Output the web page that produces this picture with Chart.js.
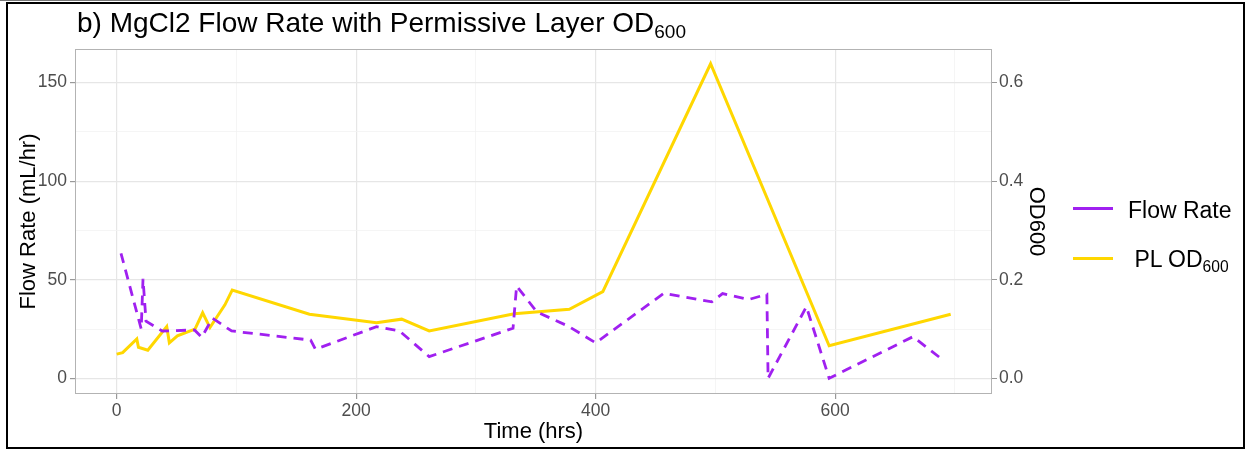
<!DOCTYPE html>
<html lang="en">
<head>
<meta charset="UTF-8">
<title>MgCl2 Flow Rate with Permissive Layer OD600</title>
<script src="https://cdn.jsdelivr.net/npm/chart.js@4.4.0/dist/chart.umd.min.js"></script>
<style>
  body { margin: 0; background: #fff; font-family: "Liberation Sans", Arial, sans-serif; }
  #wrap { position: relative; width: 1247px; height: 449px; overflow: hidden; }
  #chart { position: absolute; left: 0; top: 0; }
  #topline { position: absolute; left: 0; top: 0; width: 1070px; height: 1px; background: #777; }
  #frame { position: absolute; left: 6px; top: 2px; width: 1239px; height: 447px; border: 2px solid #000; box-sizing: border-box; pointer-events: none; }
  #title { position: absolute; left: 77px; top: 9px; font-size: 28px; line-height: 1; color: #000; white-space: nowrap; }
  sub { font-size: 0.68em; vertical-align: -0.3em; line-height: 0; }
  .key { position: absolute; left: 1073px; width: 40px; height: 3px; }
  .lab { position: absolute; left: 1128px; font-size: 23px; line-height: 1; color: #000; white-space: pre; }
</style>
</head>
<body>
<div id="wrap">
  <canvas id="chart" width="1247" height="449"></canvas>
  <div id="topline"></div>
  <div id="frame"></div>
  <div id="title">b) MgCl2 Flow Rate with Permissive Layer OD<sub>600</sub></div>
  <div class="key" style="top:207px; background:#A020F0"></div>
  <div class="lab" style="top:199px">Flow Rate</div>
  <div class="key" style="top:257px; background:#FFD700"></div>
  <div class="lab" style="top:248px"> PL OD<sub>600</sub></div>
</div>
<script>
  // values
  const flowTime = [3.6, 20.5, 22, 24.5, 38, 65, 71, 80, 96, 162, 166, 217, 236, 261, 331, 334, 351, 377, 400, 457, 497, 506, 528, 543, 544, 576, 595, 665, 690];
  const flowRate = [63.4, 25, 50.5, 29, 24, 24.5, 20.8, 30.5, 24, 19.4, 14.7, 26.2, 24.1, 11, 25.4, 46.8, 33.6, 26.5, 18, 43.1, 38.8, 43, 40, 42.6, 0, 36.3, 0, 21.1, 9.3];

  const odTime = [0, 5, 16.8, 18.2, 26, 41.8, 44, 50.7, 65.4, 71.8, 77.9, 90.4, 96.5, 161, 217, 238, 261, 332, 378, 406, 496, 595, 696.5];
  const odValue = [0.049, 0.052, 0.08, 0.063, 0.057, 0.105, 0.072, 0.086, 0.1, 0.133, 0.103, 0.149, 0.179, 0.13, 0.113, 0.12, 0.096, 0.131, 0.14, 0.176, 0.638, 0.066, 0.13];

  const xTicks = [0, 100, 200, 300, 400, 500, 600, 700];
  const xLabels = [0, 200, 400, 600];
  const yTicks = [0, 25, 50, 75, 100, 125, 150];
  const yLabels = [0, 50, 100, 150];
  const odTicks = [0, 0.2, 0.4, 0.6];

  const FONT = '"Liberation Sans", Arial, sans-serif';
  const tickFont = { family: FONT, size: 17.5 };
  const titleFont = { family: FONT, size: 22 };

  function pairs(xs, ys) {
    return xs.map((x, i) => ({ x: x, y: ys[i] }));
  }
  function isMajor(labels, c) {
    return c.tick && labels.includes(c.tick.value);
  }
  function gridFor(labels) {
    return {
      color: c => isMajor(labels, c) ? '#E6E6E6' : '#F2F2F2',
      lineWidth: c => isMajor(labels, c) ? 1.2 : 0.8,
      tickLength: 5,
      tickColor: c => isMajor(labels, c) ? '#999999' : 'rgba(0,0,0,0)'
    };
  }

  // grey panel border like ggplot
  const panelBorder = {
    id: 'panelBorder',
    afterDraw(chart) {
      const a = chart.chartArea;
      const ctx = chart.ctx;
      ctx.save();
      ctx.strokeStyle = '#B3B3B3';
      ctx.lineWidth = 1;
      ctx.strokeRect(a.left + 0.5, a.top + 0.5, a.right - a.left - 1, a.bottom - a.top - 1);
      ctx.restore();
    }
  };

  new Chart(document.getElementById('chart'), {
    type: 'line',
    data: {
      datasets: [{
        label: 'Flow Rate',
        data: pairs(flowTime, flowRate),
        yAxisID: 'y',
        borderColor: '#A020F0',
        borderWidth: 2.8,
        borderDash: [10, 7],
        pointRadius: 0,
        tension: 0,
        fill: false
      }, {
        label: 'PL OD600',
        data: pairs(odTime, odValue),
        yAxisID: 'y2',
        borderColor: '#FFD700',
        borderWidth: 3,
        pointRadius: 0,
        tension: 0,
        fill: false
      }]
    },
    options: {
      responsive: false,
      animation: false,
      layout: { padding: { left: 12, top: 49, right: 194, bottom: 0 } },
      plugins: { legend: { display: false }, tooltip: { enabled: false } },
      scales: {
        x: {
          type: 'linear',
          min: -34.8,
          max: 731,
          afterBuildTicks: s => { s.ticks = xTicks.map(v => ({ value: v })); },
          afterFit: s => { s.height = 55; },
          ticks: {
            autoSkip: false, maxRotation: 0, padding: 2,
            color: '#4D4D4D', font: tickFont,
            callback: v => xLabels.includes(v) ? String(v) : ''
          },
          grid: gridFor(xLabels),
          border: { display: false },
          title: { display: true, text: 'Time (hrs)', color: '#000', font: titleFont, padding: { top: 0, bottom: 4 } }
        },
        y: {
          type: 'linear',
          position: 'left',
          min: -7.95,
          max: 167,
          afterBuildTicks: s => { s.ticks = yTicks.map(v => ({ value: v })); },
          afterFit: s => { s.width = 63; },
          ticks: {
            autoSkip: false, padding: 3,
            color: '#4D4D4D', font: tickFont,
            callback: v => yLabels.includes(v) ? String(v) : ''
          },
          grid: gridFor(yLabels),
          border: { display: false },
          title: { display: true, text: 'Flow Rate (mL/hr)', color: '#000', font: titleFont, padding: { top: 4, bottom: 0 } }
        },
        y2: {
          type: 'linear',
          position: 'right',
          min: -7.95 / 250,
          max: 167 / 250,
          afterBuildTicks: s => { s.ticks = odTicks.map(v => ({ value: v })); },
          afterFit: s => { s.width = 61; },
          ticks: {
            autoSkip: false, padding: 2,
            color: '#4D4D4D', font: tickFont,
            callback: v => v.toFixed(1)
          },
          grid: { drawOnChartArea: false, tickLength: 5, tickColor: '#999999' },
          border: { display: false },
          title: { display: true, text: 'OD600', color: '#000', font: titleFont, padding: { top: 4, bottom: 0 } }
        }
      }
    },
    plugins: [panelBorder]
  });
</script>
</body>
</html>
